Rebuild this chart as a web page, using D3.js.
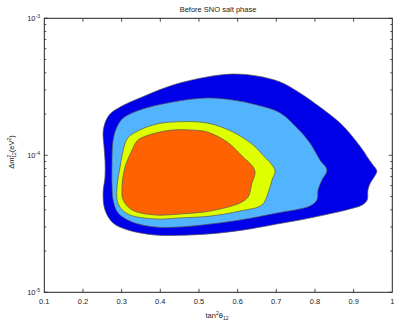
<!DOCTYPE html>
<html>
<head>
<meta charset="UTF-8">
<title>Before SNO salt phase</title>
<script src="https://cdnjs.cloudflare.com/ajax/libs/d3/7.8.5/d3.min.js"></script>
<style>
  body { margin: 0; background: #fff; }
  svg text { font-family: "Liberation Sans", Arial, sans-serif; fill: #222; }
</style>
</head>
<body>
<svg id="chart" width="398" height="327"></svg>
<script>
// allowed regions in (tan^2 theta12, dm2_12 [eV^2]), outermost first
const cl99 = [[0.252,5.31e-5],[0.257,6.94e-5],[0.257,9.24e-5],[0.254,1.19e-4],[0.252,1.46e-4],[0.257,1.72e-4],
  [0.270,2.00e-4],[0.296,2.25e-4],[0.347,2.62e-4],[0.433,3.26e-4],[0.521,3.73e-4],[0.588,3.92e-4],[0.650,3.79e-4],
  [0.710,3.43e-4],[0.761,2.85e-4],[0.813,2.25e-4],[0.865,1.72e-4],[0.896,1.38e-4],[0.924,1.09e-4],[0.937,9.56e-5],
  [0.948,8.64e-5],[0.960,7.68e-5],[0.953,6.94e-5],[0.943,6.28e-5],[0.937,5.58e-5],[0.935,4.72e-5],[0.922,4.34e-5],
  [0.891,4.06e-5],[0.847,3.79e-5],[0.761,3.37e-5],[0.702,3.15e-5],[0.632,2.90e-5],[0.554,2.71e-5],[0.477,2.62e-5],
  [0.386,2.62e-5],[0.316,2.85e-5],[0.278,3.20e-5],[0.257,3.99e-5]];
const cl95 = [[0.275,6.28e-5],[0.275,8.22e-5],[0.278,1.29e-4],[0.288,1.61e-4],[0.304,1.87e-4],[0.347,2.14e-4],
  [0.433,2.45e-4],[0.521,2.62e-4],[0.588,2.53e-4],[0.650,2.33e-4],[0.710,2.04e-4],[0.754,1.58e-4],[0.787,1.23e-4],
  [0.813,9.24e-5],[0.831,7.81e-5],[0.818,6.60e-5],[0.808,5.58e-5],[0.805,4.72e-5],[0.787,4.27e-5],[0.702,3.79e-5],
  [0.606,3.37e-5],[0.529,3.15e-5],[0.451,3.00e-5],[0.386,3.00e-5],[0.327,3.26e-5],[0.291,3.79e-5],[0.278,4.72e-5]];
const cl90 = [[0.288,5.87e-5],[0.296,8.22e-5],[0.304,1.09e-4],[0.316,1.34e-4],[0.347,1.53e-4],[0.391,1.69e-4],
  [0.433,1.75e-4],[0.521,1.72e-4],[0.588,1.48e-4],[0.640,1.19e-4],[0.666,1.00e-4],[0.689,8.50e-5],[0.697,7.68e-5],
  [0.689,6.60e-5],[0.679,5.31e-5],[0.663,4.34e-5],[0.606,3.92e-5],[0.529,3.60e-5],[0.451,3.49e-5],[0.386,3.43e-5],
  [0.316,3.73e-5],[0.291,4.41e-5]];
const cl68 = [[0.301,5.87e-5],[0.309,8.22e-5],[0.327,1.09e-4],[0.342,1.29e-4],[0.391,1.46e-4],[0.433,1.53e-4],
  [0.477,1.53e-4],[0.521,1.48e-4],[0.573,1.25e-4],[0.614,9.73e-5],[0.640,8.22e-5],[0.645,7.43e-5],[0.637,6.28e-5],
  [0.627,4.96e-5],[0.606,4.49e-5],[0.529,3.92e-5],[0.451,3.73e-5],[0.386,3.67e-5],[0.327,3.99e-5],[0.304,4.72e-5]];

const regions = [cl99, cl95, cl90, cl68];
const regionColors = ["#0000e8", "#52b4ff", "#ddff00", "#ff6200"];
const xTicks = [0.1, 0.2, 0.3, 0.4, 0.5, 0.6, 0.7, 0.8, 0.9, 1];
const yDecades = [1e-5, 1e-4, 1e-3];
const yExps = ["-5", "-4", "-3"];

const svg = d3.select("#chart");
const m = { left: 44.3, right: 392.3, top: 18.3, bottom: 292.3 };

const x = d3.scaleLinear().domain([0.1, 1]).range([m.left, m.right]);
const y = d3.scaleLog().domain([1e-5, 1e-3]).range([m.bottom, m.top]);

const line = d3.line()
  .x(d => x(d[0]))
  .y(d => y(d[1]))
  .curve(d3.curveCatmullRomClosed.alpha(0.5));

svg.selectAll("path.region")
  .data(regions)
  .join("path")
  .attr("class", "region")
  .attr("d", line)
  .attr("fill", (d, i) => regionColors[i])
  .attr("stroke", "#555")
  .attr("stroke-width", 0.7);

// frame
svg.append("rect")
  .attr("x", m.left).attr("y", m.top)
  .attr("width", m.right - m.left).attr("height", m.bottom - m.top)
  .attr("fill", "none").attr("stroke", "#222").attr("stroke-width", 1);

// x ticks, inward on bottom and top
const tk = svg.append("g").attr("stroke", "#222").attr("stroke-width", 0.8);
xTicks.slice(1, -1).forEach(t => {
  tk.append("line").attr("x1", x(t)).attr("x2", x(t)).attr("y1", m.bottom).attr("y2", m.bottom - 3.5);
  tk.append("line").attr("x1", x(t)).attr("x2", x(t)).attr("y1", m.top).attr("y2", m.top + 3.5);
});

// y ticks (log minors), inward on left and right
y.ticks().forEach(t => {
  const major = yDecades.some(d => Math.abs(d - t) / d < 1e-6);
  const len = major ? 3.5 : 2;
  tk.append("line").attr("x1", m.left).attr("x2", m.left + len).attr("y1", y(t)).attr("y2", y(t));
  tk.append("line").attr("x1", m.right).attr("x2", m.right - len).attr("y1", y(t)).attr("y2", y(t));
});

// x tick labels
svg.selectAll("text.xt")
  .data(xTicks)
  .join("text")
  .attr("class", "xt")
  .attr("x", d => x(d))
  .attr("y", 304)
  .attr("text-anchor", "middle")
  .attr("font-size", 7.5)
  .text(d => d3.format("")(d));

// y tick labels 10^n
yDecades.forEach((d, i) => {
  const t = svg.append("text")
    .attr("x", 40).attr("y", y(d) + 3)
    .attr("text-anchor", "end")
    .attr("font-size", 7.5);
  t.append("tspan").text("10");
  t.append("tspan").attr("dy", -3.5).attr("font-size", 5).text(yExps[i]);
});

// title
svg.append("text")
  .attr("x", 218).attr("y", 12)
  .attr("text-anchor", "middle")
  .attr("font-size", 7.5)
  .text("Before SNO salt phase");

// x label
const xl = svg.append("text")
  .attr("x", 217).attr("y", 318)
  .attr("text-anchor", "middle")
  .attr("font-size", 7.5);
xl.append("tspan").text("tan");
xl.append("tspan").attr("dy", -3).attr("font-size", 5).text("2");
xl.append("tspan").attr("dy", 3).text("θ");
xl.append("tspan").attr("dy", 2).attr("font-size", 5).text("12");

// y label
const yl = svg.append("text")
  .attr("transform", "translate(14,152) rotate(-90)")
  .attr("text-anchor", "middle")
  .attr("font-size", 7.5);
yl.append("tspan").text("Δm");
yl.append("tspan").attr("dy", -3).attr("font-size", 5).text("2");
yl.append("tspan").attr("dx", -3).attr("dy", 5).attr("font-size", 5).text("12");
yl.append("tspan").attr("dy", -2).text("(eV");
yl.append("tspan").attr("dy", -3).attr("font-size", 5).text("2");
yl.append("tspan").attr("dy", 3).text(")");
</script>
</body>
</html>
